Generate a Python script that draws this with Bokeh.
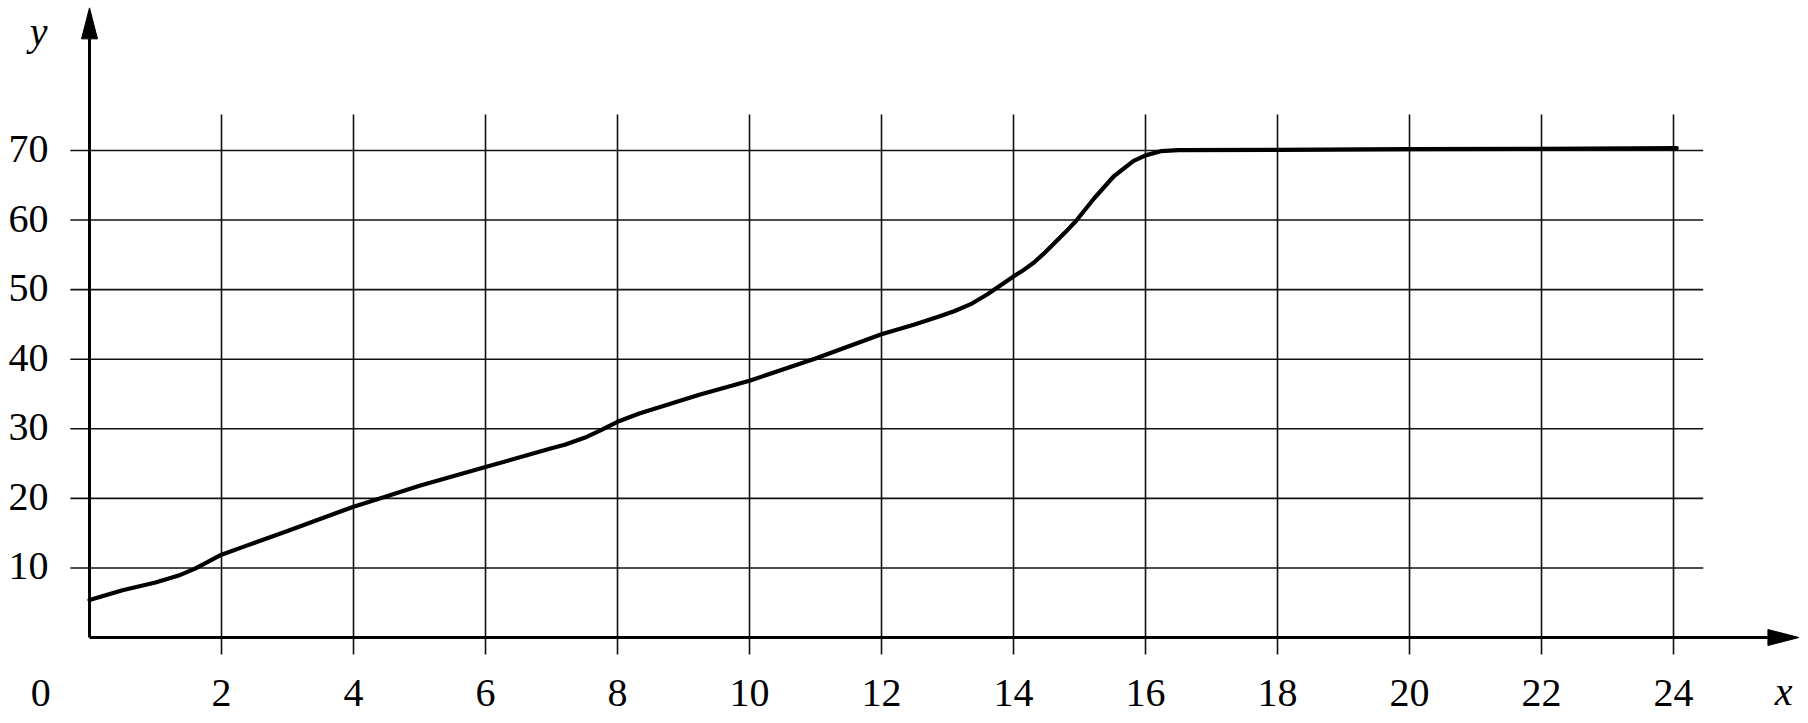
from bokeh.plotting import figure
from bokeh.models import Range1d
from bokeh.core.properties import value
from bokeh.embed import file_html
from bokeh.resources import INLINE

# ---- data ----
x_ticks = [2, 4, 6, 8, 10, 12, 14, 16, 18, 20, 22, 24]
x_tick_labels = ["2", "4", "6", "8", "10", "12", "14", "16", "18", "20", "22", "24"]
y_ticks = [10, 20, 30, 40, 50, 60, 70]
y_tick_labels = ["10", "20", "30", "40", "50", "60", "70"]

curve_x = [0, 0.5, 1.0, 1.35, 1.6, 2.0, 2.35, 3.0, 3.71, 4.0, 4.47, 5.0, 6.0, 7.0,
           7.2, 7.5, 7.75, 8.0, 8.33, 8.73, 9.24, 10.0, 11.0, 12.0, 12.5, 12.86, 13.1,
           13.37, 13.6, 13.8, 14.0, 14.15, 14.31, 14.45, 14.61, 14.78, 14.94, 15.22,
           15.52, 15.82, 16.0, 16.23, 16.5, 18.0, 20.0, 22.0, 24.05]
curve_y = [5.4, 6.8, 7.9, 8.9, 9.9, 11.9, 13.1, 15.3, 17.8, 18.8, 20.2, 21.8, 24.5, 27.2,
           27.7, 28.7, 29.8, 31.0, 32.2, 33.4, 34.9, 36.9, 40.1, 43.6, 45.0, 46.1, 46.9,
           48.0, 49.3, 50.6, 51.9, 52.8, 53.9, 55.1, 56.6, 58.2, 59.8, 63.1,
           66.3, 68.5, 69.3, 69.9, 70.05, 70.1, 70.2, 70.25, 70.35]

# ---- layout constants ----
W, H = 1800, 715
XR = (-1.3485, 25.924)
YR = (-11.21, 91.56)
PX_X = W / (XR[1] - XR[0])   # pixels per x unit
PX_Y = H / (YR[1] - YR[0])   # pixels per y unit

GRID_X0, GRID_X1 = -0.29, 24.45
GRID_Y0, GRID_Y1 = -2.44, 75.18
X_TIP, Y_TIP = 25.9, 90.5
HEAD_LEN, HEAD_HALF = 31, 8

FONT = value("Liberation Serif")
FS = "40px"

p = figure(width=W, height=H, x_range=Range1d(*XR), y_range=Range1d(*YR),
           output_backend="svg", toolbar_location=None, min_border=0,
           x_axis_location=None, y_axis_location=None)
p.grid.visible = False
p.outline_line_color = None
p.background_fill_color = "white"
p.border_fill_color = "white"

# grid
p.segment(x0=x_ticks, y0=[GRID_Y0] * len(x_ticks), x1=x_ticks, y1=[GRID_Y1] * len(x_ticks),
          line_color="#111111", line_width=1.6)
p.segment(x0=[GRID_X0] * len(y_ticks), y0=y_ticks, x1=[GRID_X1] * len(y_ticks), y1=y_ticks,
          line_color="#111111", line_width=1.6)

# axes with arrow heads
x_base = X_TIP - HEAD_LEN / PX_X
y_base = Y_TIP - HEAD_LEN / PX_Y
p.segment(x0=[0, 0], y0=[0, 0], x1=[x_base, 0], y1=[0, y_base],
          line_color="black", line_width=3)
p.patches(xs=[[X_TIP, x_base, x_base], [0, -HEAD_HALF / PX_X, HEAD_HALF / PX_X]],
          ys=[[0, HEAD_HALF / PX_Y, -HEAD_HALF / PX_Y], [Y_TIP, y_base, y_base]],
          fill_color="black", line_color="black", line_width=1)

# curve
p.line(curve_x, curve_y, line_color="black", line_width=4.2, line_join="round", line_cap="round")

# tick labels
XL_Y = -55 / PX_Y
p.text(x=x_ticks, y=[XL_Y] * len(x_ticks), text=x_tick_labels, text_align="center",
       text_baseline="middle", text_font=FONT, text_font_size=FS, text_color="black")
p.text(x=[-0.62] * len(y_ticks), y=[v + 1.5 / PX_Y for v in y_ticks], text=y_tick_labels,
       text_align="right", text_baseline="middle", text_font=FONT,
       text_font_size=FS, text_color="black")
p.text(x=[-0.74], y=[XL_Y], text=["0"], text_align="center", text_baseline="middle",
       text_font=FONT, text_font_size=FS, text_color="black")

# axis names
p.text(x=[-0.77], y=[(637 - 31) / PX_Y], text=["y"], text_align="center", text_baseline="middle",
       text_font=FONT, text_font_style="italic", text_font_size=FS, text_color="black")
p.text(x=[25.67], y=[(637 - 691) / PX_Y], text=["x"], text_align="center", text_baseline="middle",
       text_font=FONT, text_font_style="italic", text_font_size=FS, text_color="black")

open("out.html", "w").write(file_html(p, INLINE))
